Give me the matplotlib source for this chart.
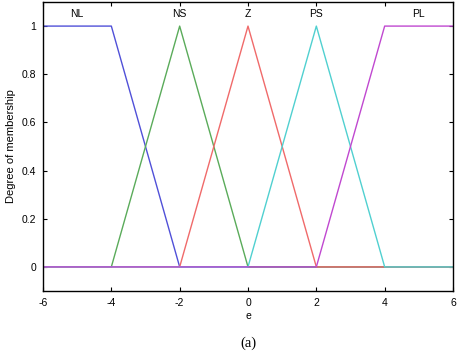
import matplotlib
matplotlib.use("Agg")
import matplotlib.pyplot as plt

plt.rcParams['font.family'] = ['Liberation Sans', 'DejaVu Sans']

names = ["NL", "NS", "Z", "PS", "PL"]
label_x = [-5, -2, 0, 2, 5]
# membership function breakpoints (x) and values (y) over [-6, 6]
mf_x = [
    [-6, -4, -2, 6],
    [-6, -4, -2, 0, 6],
    [-6, -2, 0, 2, 6],
    [-6, 0, 2, 4, 6],
    [-6, 2, 4, 6],
]
mf_y = [
    [1, 1, 0, 0],
    [0, 0, 1, 0, 0],
    [0, 0, 1, 0, 0],
    [0, 0, 1, 0, 0],
    [0, 0, 1, 1],
]
colors = ["#5050d8", "#5aab5a", "#f06a6a", "#50d0d0", "#c048d0"]
xticks = [-6, -4, -2, 0, 2, 4, 6]
yticks = [0, 0.2, 0.4, 0.6, 0.8, 1]
ytick_labels = ["0", "0.2", "0.4", "0.6", "0.8", "1"]

fig = plt.figure(figsize=(4.59, 3.52), dpi=100)
ax = fig.add_axes([43/459, 1 - 291/352, 410/459, 289/352])
for xs, ys, c in zip(mf_x, mf_y, colors):
    ax.plot(xs, ys, color=c, lw=1.0)
for n, lx in zip(names, label_x):
    ax.text(lx, 1.05, n, ha="center", va="center", fontsize=7.5)
ax.set_xlim(-6, 6)
ax.set_ylim(-0.1, 1.1)
ax.set_xticks(xticks)
ax.set_xticklabels([str(t) for t in xticks])
ax.set_yticks(yticks)
ax.set_yticklabels(ytick_labels)
ax.tick_params(direction="in", top=True, right=True, labelsize=7.5, length=3)
ax.tick_params(axis="x", pad=5)
ax.tick_params(axis="y", pad=5)
ax.set_xlabel("e", fontsize=7.5, labelpad=2)
ax.set_ylabel("Degree of membership", fontsize=8, labelpad=4)
for s in ax.spines.values():
    s.set_linewidth(1.0)
fig.text(248/459, 1 - 343/352, "(a)", ha="center", va="center", fontsize=10.5, family="Liberation Serif")
fig.savefig("out.png", dpi=100)
